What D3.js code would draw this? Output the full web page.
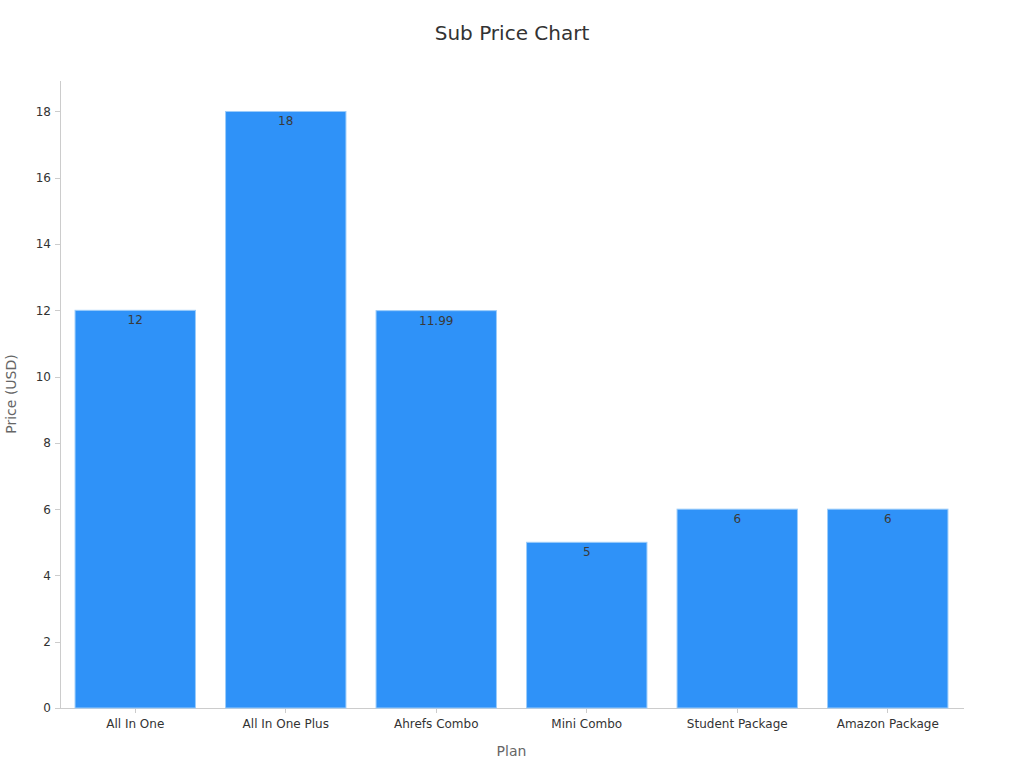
<!DOCTYPE html>
<html lang="en">
<head>
    <meta charset="UTF-8">
    <title>Sub Price Chart</title>
    <style>
        body { margin: 0; background: #fff; }
        #chart { font-family: "DejaVu Sans", sans-serif; }
        .axis path, .axis line { stroke: #ccc; shape-rendering: crispEdges; }
        .axis text { fill: #333; font-size: 12px; font-family: "DejaVu Sans", sans-serif; }
        .bar { fill: #2f92f8; stroke: #9cccfa; stroke-width: 1px; }
        .bar-label { fill: #3a3a3a; font-size: 12px; }
        .axis-title { fill: #666; font-size: 14px; }
    </style>
    <script src="https://d3js.org/d3.v7.min.js"></script>
</head>
<body>
    <div id="chart"></div>
    <script>
        // Data
        const plans = ['All In One', 'All In One Plus', 'Ahrefs Combo', 'Mini Combo', 'Student Package', 'Amazon Package'];
        const prices = [12, 18, 11.99, 5, 6, 6];
        const yTicks = [0, 2, 4, 6, 8, 10, 12, 14, 16, 18];

        const margin = { top: 80, right: 61, bottom: 60, left: 60 };
        const width = 1024 - margin.left - margin.right;
        const height = 768 - margin.top - margin.bottom;

        const root = d3.select("#chart")
            .append("svg")
            .attr("width", 1024)
            .attr("height", 768);

        // Title
        root.append("text")
            .attr("x", 512)
            .attr("y", 40)
            .attr("text-anchor", "middle")
            .style("font-size", "20px")
            .style("fill", "#333")
            .text("Sub Price Chart");

        const svg = root.append("g")
            .attr("transform", `translate(${margin.left},${margin.top})`);

        const x = d3.scaleBand()
            .domain(plans)
            .range([0, width])
            .paddingInner(0.2)
            .paddingOuter(0.1);

        const y = d3.scaleLinear()
            .domain([0, 18.95])
            .range([height, 0]);

        // Y axis
        svg.append("g")
            .attr("class", "axis")
            .call(d3.axisLeft(y).tickValues(yTicks).tickSize(5).tickPadding(4).tickSizeOuter(0))
            .call(g => g.selectAll(".tick line").attr("stroke", "#333"));

        // X axis
        svg.append("g")
            .attr("class", "axis")
            .attr("transform", `translate(0,${height})`)
            .call(d3.axisBottom(x).tickSize(5).tickPadding(6).tickSizeOuter(0))
            .call(g => g.selectAll(".tick line").attr("stroke", "#666"));

        // Bars
        const data = plans.map((p, i) => ({ plan: p, price: prices[i] }));

        svg.selectAll(".bar")
            .data(data)
            .enter().append("rect")
            .attr("class", "bar")
            .attr("x", d => x(d.plan))
            .attr("y", d => y(d.price))
            .attr("width", x.bandwidth())
            .attr("height", d => height - y(d.price));

        svg.selectAll(".bar-label")
            .data(data)
            .enter().append("text")
            .attr("class", "bar-label")
            .attr("x", d => x(d.plan) + x.bandwidth() / 2)
            .attr("y", d => y(d.price) + 14)
            .attr("text-anchor", "middle")
            .text(d => d.price);

        // Axis titles
        svg.append("text")
            .attr("class", "axis-title")
            .attr("x", width / 2)
            .attr("y", height + 48)
            .attr("text-anchor", "middle")
            .text("Plan");

        svg.append("text")
            .attr("class", "axis-title")
            .attr("transform", "rotate(-90)")
            .attr("x", -height / 2)
            .attr("y", -44)
            .attr("text-anchor", "middle")
            .text("Price (USD)");
    </script>
</body>
</html>
